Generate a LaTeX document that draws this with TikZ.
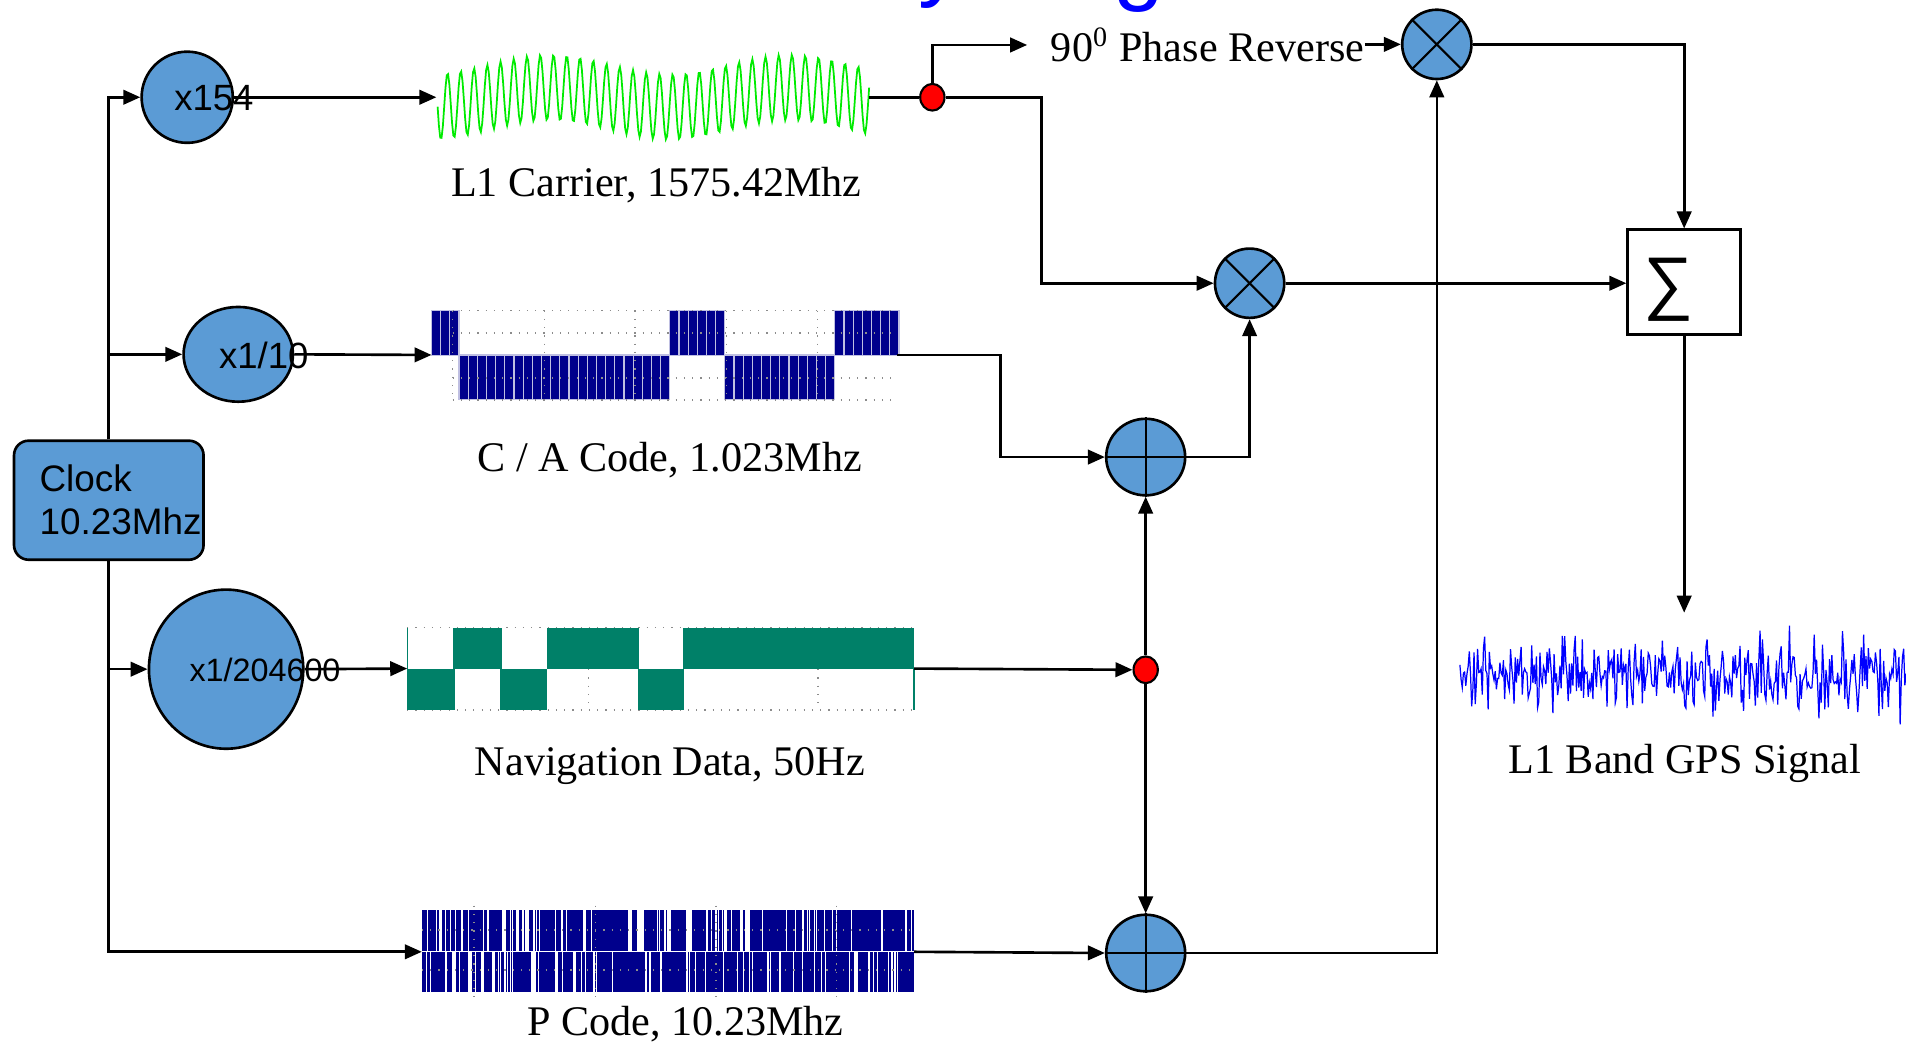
\documentclass[tikz,border=0pt]{standalone}
\usepackage{fontspec}
\setmainfont{Liberation Serif}
\setsansfont{Liberation Sans}
\usetikzlibrary{arrows.meta,shapes.geometric}
\definecolor{nodeblue}{RGB}{91,155,213}
\definecolor{codenavy}{RGB}{0,0,140}
\definecolor{navteal}{RGB}{0,128,104}
\definecolor{carriergreen}{RGB}{0,235,0}
\definecolor{gpsblue}{RGB}{0,0,255}
\tikzset{
  wire/.style={line width=0.75pt,-{Triangle[length=0.17cm,width=0.145cm]}},
  plainwire/.style={line width=0.75pt},
  blkcirc/.style={ellipse,draw,line width=0.75pt,fill=nodeblue,inner sep=0},
  mult/.style={circle,draw,line width=0.75pt,fill=nodeblue,inner sep=0,minimum size=0.693cm},
  adder/.style={ellipse,draw,line width=0.75pt,fill=nodeblue,inner sep=0,minimum width=0.79cm,minimum height=0.766cm},
  reddot/.style={ellipse,draw,line width=0.6pt,fill=red,inner sep=0,minimum width=0.243cm,minimum height=0.267cm},
  clockbox/.style={rectangle,rounded corners=0.146cm,draw,line width=0.75pt,fill=nodeblue,minimum width=1.896cm,minimum height=1.191cm},
  sumbox/.style={rectangle,draw,line width=0.75pt,fill=white,minimum width=1.131cm,minimum height=1.045cm},
  numtxt/.style={inner sep=0,anchor=base},
  lbl/.style={font=\fontsize{12}{14}\selectfont,inner sep=0,anchor=base},
  titletxt/.style={font=\sffamily\fontsize{26}{30}\selectfont,text=gpsblue,inner sep=0,anchor=base},
  gridline/.style={dotted,black!45,line width=0.35pt},
  cabar/.style={fill=codenavy,draw=white!75!codenavy,line width=0.35pt}
}
\begin{document}
\begin{tikzpicture}[x=0.012156cm,y=-0.012156cm]
\useasboundingbox (0,0) rectangle (1568,857.2);

% title, cut by the top edge
\begin{scope}
\clip (0,0) rectangle (1568,857.2);
\node[titletxt] (ttly) at (774,-9) {y};
\node[titletxt] (ttlg) at (937,-5) {g};
\end{scope}

% clock and dividers
\node[clockbox] (clock) at (89.5,411.5) {};
\node[numtxt,font=\sffamily\fontsize{10.5}{12}\selectfont,anchor=base west] (clocka) at (32,404.4) {Clock};
\node[numtxt,font=\sffamily\fontsize{10.5}{12}\selectfont,anchor=base west] (clockb) at (32,440) {10.23Mhz};
\node[blkcirc,minimum width=0.912cm,minimum height=0.912cm] (m154) at (154,80) {};
\node[numtxt,font=\sffamily\fontsize{10.4}{12}\selectfont] (t154) at (176,90.5) {x154};
\node[blkcirc,minimum width=1.094cm,minimum height=0.948cm] (m10) at (196,291.5) {};
\node[numtxt,font=\sffamily\fontsize{10.4}{12}\selectfont] (t10) at (217,303) {x1/10};
\node[blkcirc,minimum width=1.544cm,minimum height=1.592cm] (m204600) at (186,550.5) {};
\node[numtxt,font=\sffamily\fontsize{9.2}{12}\selectfont] (t204600) at (218,560.8) {x1/204600};

% ends of the waveforms
\coordinate (l1in) at (359,80);
\coordinate (l1out) at (715,80);
\coordinate (cain) at (355,292);
\coordinate (caout) at (738,292);
\coordinate (navin) at (335,550);
\coordinate (navout) at (752,550);
\coordinate (pin) at (347,783);
\coordinate (pout) at (752,783);
\coordinate (phasein) at (845,37);
\coordinate (gpsin) at (1385.5,504);

% L1 carrier
\draw[carriergreen,line width=0.5pt] plot[domain=360:715,samples=330]
  (\x,{80-8*cos(1.818*(\x-452))+27*sin(33.03*(\x-360))});
\node[lbl] (l1lab) at (540,161.8) {L1 Carrier, 1575.42Mhz};

% C/A code
\foreach \a/\b/\top in {0/2/255.6,3/25/292,26/31/255.6,32/43/292,44/50/255.6}
  \foreach \i in {\a,...,\b}
    \filldraw[cabar] ({355+7.54*\i},\top) rectangle ++(7.54,36.7);
\foreach \gx in {372.4,447.8,522.4,597.8,672.4}
  \draw[gridline] (\gx,255.6) -- (\gx,329);
\foreach \gy in {255.6,274,311,329}
  \draw[gridline] (372.4,\gy) -- (738,\gy);
\node[lbl] (calab) at (551,388) {C / A Code, 1.023Mhz};

% navigation data
\draw[gridline] (335,516.5) -- (752,516.5);
\draw[gridline] (335,584) -- (752,584);
\foreach \gx in {484,673}
  \draw[gridline] (\gx,516.5) -- (\gx,584);
\foreach \xa/\xb in {373/413,450/526,562/752}
  \fill[navteal] (\xa,516.5) rectangle (\xb,550);
\foreach \xa/\xb in {335/374,411/450,525/563}
  \fill[navteal] (\xa,550) rectangle (\xb,584);
\draw[navteal,line width=0.4pt] (335,516.5) -- (335,550) (752,550) -- (752,584);
\node[lbl] (navlab) at (551,637.6) {Navigation Data, 50Hz};

% P code
\fill[codenavy] (347,748.5) rectangle (752,782.5);
\fill[codenavy] (347,783.5) rectangle (752,816);
\pgfmathsetseed{4242}
\foreach \i in {1,...,75} {
  \pgfmathsetmacro\gx{348+402*rnd}
  \pgfmathsetmacro\gw{0.6+7*rnd*rnd*rnd*rnd}
  \fill[white] (\gx,748) rectangle ++(\gw,35);
}
\foreach \i in {1,...,75} {
  \pgfmathsetmacro\gx{348+402*rnd}
  \pgfmathsetmacro\gw{0.6+7*rnd*rnd*rnd*rnd}
  \fill[white] (\gx,783) rectangle ++(\gw,33.5);
}
\foreach \gx in {390,490,589,688}
  \draw[gridline] (\gx,745) -- (\gx,820);
\foreach \gy in {765,798}
  \draw[gridline] (347,\gy) -- (752,\gy);
\node[lbl] (plab) at (564,851.5) {P Code, 10.23Mhz};

% GPS signal
\pgfmathsetseed{2718}
\draw[gpsblue,line width=0.35pt] plot[domain=1201:1568,samples=380]
  (\x,{555+20*rand+27*rand*rand});
\node[lbl] (gpslab) at (1386,636) {L1 Band GPS Signal};

% mixers and sum
\node[reddot] (dotl1) at (767,80) {};
\node[reddot] (dotnav) at (942.5,551) {};
\node[lbl,anchor=base west] (phase) at (864,50.5) {90\textsuperscript{0} Phase Reverse};
\node[mult] (mtop) at (1182,36.5) {};
\draw[line width=0.6pt] (mtop.north east) -- (mtop.south west) (mtop.north west) -- (mtop.south east);
\node[mult] (mmid) at (1028,233) {};
\draw[line width=0.6pt] (mmid.north east) -- (mmid.south west) (mmid.north west) -- (mmid.south east);
\node[adder] (add1) at (942.5,376) {};
\draw[line width=0.6pt] (add1.north) -- (add1.south) (add1.west) -- (add1.east);
\node[adder] (add2) at (942.5,784) {};
\draw[line width=0.6pt] (add2.north) -- (add2.south) (add2.west) -- (add2.east);
\node[sumbox] (sigma) at (1385.5,232) {};
\node[font=\sffamily\fontsize{20}{20}\selectfont,inner sep=0] (sigsym) at (1372.5,238.5) {∑};

% connections
\draw[wire] (clock.north) |- (m154.west);
\draw[wire] (clock.north) |- (m10.west);
\draw[wire] (clock.south) |- (m204600.west);
\draw[wire] (clock.south) |- (pin);
\draw[wire] (m154.east) -- (l1in);
\draw[wire] (m10.east) -- (cain);
\draw[wire] (m204600.east) -- (navin);
\draw[plainwire] (l1out) -- (dotl1.west);
\draw[wire] (dotl1.north) |- (phasein);
\draw[wire] (phase.east |- mtop.west) -- (mtop.west);
\draw[wire] (dotl1.east) -- ++(79,0) |- (mmid.west);
\draw[wire] (caout) -- ++(85,0) |- (add1.west);
\draw[wire] (navout) -- (dotnav.west);
\draw[wire] (dotnav.north) -- (add1.south);
\draw[wire] (dotnav.south) -- (add2.north);
\draw[wire] (pout) -- (add2.west);
\draw[wire] (add1.east) -| (mmid.south);
\draw[wire] (add2.east) -| (mtop.south);
\draw[wire] (mtop.east) -| (sigma.north);
\draw[wire] (mmid.east) -- (mmid.east -| sigma.west);
\draw[wire] (sigma.south) -- (gpsin);
\end{tikzpicture}
\end{document}
